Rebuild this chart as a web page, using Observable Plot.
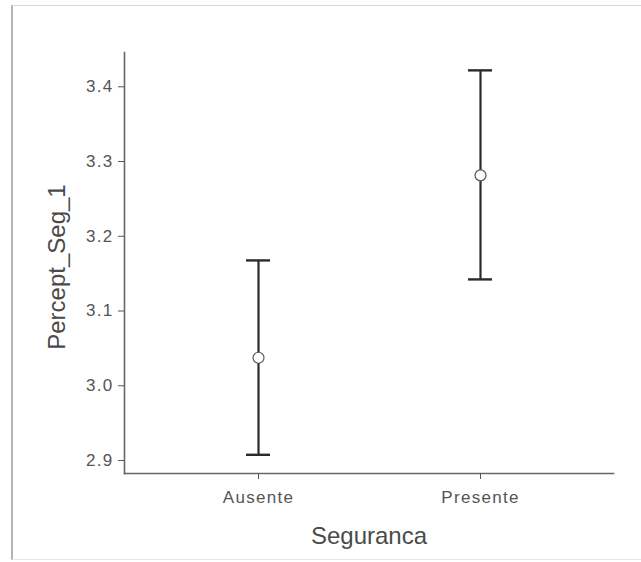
<!DOCTYPE html>
<html>
<head>
<meta charset="utf-8">
<script src="https://cdn.jsdelivr.net/npm/d3@7"></script>
<script src="https://cdn.jsdelivr.net/npm/@observablehq/plot@0.6"></script>
<style>
  html, body { margin: 0; padding: 0; background: #ffffff; }
  #wrap { position: relative; width: 641px; height: 562px; overflow: hidden; }
  #frame { position: absolute; left: 11px; top: 5px; width: 640px; height: 555px;
           border-left: 2px solid #b5b5b5; border-top: 1px solid #d9d9d9; border-bottom: 1px solid #e6e6e6;
           pointer-events: none; box-sizing: border-box; }
  #chart { position: absolute; left: 0; top: 0; }
  .ticklbl text { letter-spacing: 1.3px; }
</style>
</head>
<body>
<div id="wrap"><div id="chart"></div><div id="frame"></div></div>
<script>
const categories = ["Ausente", "Presente"];
const means = [3.0375, 3.2815];
const lower = [2.9076, 3.1423];
const upper = [3.1677, 3.4220];
const yTicks = [2.9, 3.0, 3.1, 3.2, 3.3, 3.4];
const xTitle = "Seguranca";
const yTitle = "Percept_Seg_1";

const data = categories.map((c, i) => ({cat: c, mean: means[i], lo: lower[i], hi: upper[i]}));

const chart = Plot.plot({
  width: 641,
  height: 562,
  marginLeft: 124,
  marginRight: 28,
  marginTop: 52,
  marginBottom: 89,
  style: {fontFamily: "'Liberation Sans', Arial, sans-serif", background: "transparent"},
  x: {type: "band", domain: categories, paddingInner: 0.892, paddingOuter: 0.547},
  y: {domain: [2.8826, 3.4459]},
  marks: [
    Plot.frame({anchor: "left", stroke: "#666", strokeWidth: 1.6}),
    Plot.frame({anchor: "bottom", stroke: "#666", strokeWidth: 1.6}),
    Plot.axisY({ticks: yTicks, tickFormat: d => d.toFixed(1), tickSize: 6, tickPadding: 5,
                fontSize: 17, color: "#555", label: null, className: "ticklbl"}),
    Plot.axisX({tickSize: 6, tickPadding: 11, fontSize: 17, color: "#555", label: null, className: "ticklbl"}),
    Plot.text([xTitle], {frameAnchor: "bottom", lineAnchor: "bottom", textAnchor: "middle", dy: 70, fontSize: 24, fill: "#4a4a4a"}),
    Plot.text([yTitle], {frameAnchor: "left", textAnchor: "middle", lineAnchor: "middle", dx: -67, dy: 4, rotate: -90, fontSize: 24, fill: "#4a4a4a"}),
    Plot.ruleX(data, {x: "cat", y1: "lo", y2: "hi", stroke: "#2b2b2b", strokeWidth: 2.2}),
    Plot.tickY(data, {x: "cat", y: "lo", stroke: "#2b2b2b", strokeWidth: 2.4}),
    Plot.tickY(data, {x: "cat", y: "hi", stroke: "#2b2b2b", strokeWidth: 2.4}),
    Plot.dot(data, {x: "cat", y: "mean", r: 5.5, fill: "white", stroke: "#555", strokeWidth: 1.2})
  ]
});
document.getElementById("chart").appendChild(chart);
</script>
</body>
</html>
